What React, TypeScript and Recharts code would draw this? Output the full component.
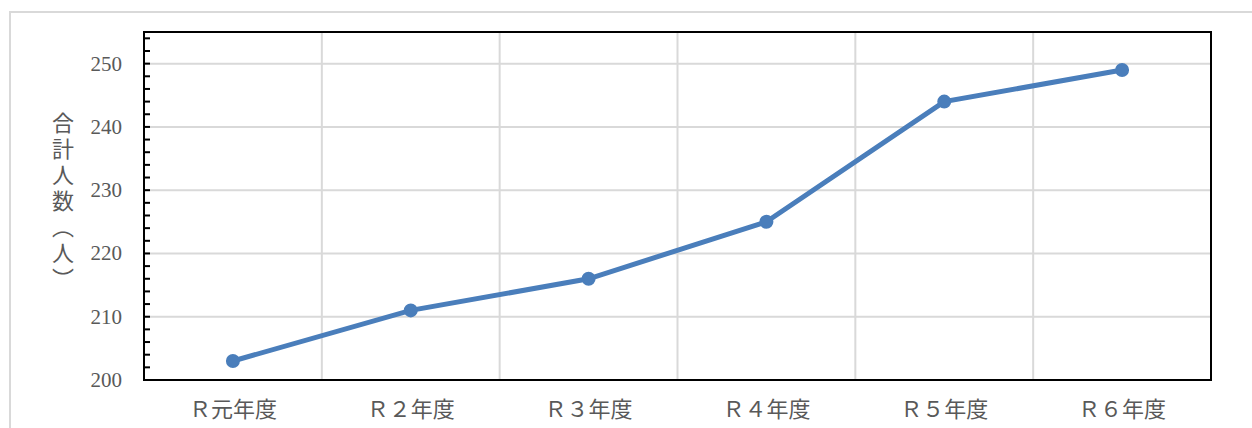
import React from 'react';
import { LineChart, Line, XAxis, YAxis, CartesianGrid, ReferenceArea } from 'recharts';

const categories = ['Ｒ元年度', 'Ｒ２年度', 'Ｒ３年度', 'Ｒ４年度', 'Ｒ５年度', 'Ｒ６年度'];
const totals = [203, 211, 216, 225, 244, 249];
const yMajorTicks = [200, 210, 220, 230, 240, 250];
const yMinorTicks = [200, 202, 204, 206, 208, 210, 212, 214, 216, 218, 220, 222, 224, 226, 228, 230, 232, 234, 236, 238, 240, 242, 244, 246, 248, 250, 252, 254];
const gridXTicks = [1, 2, 3, 4, 5];
const yDomain = [200, 255];
const yLabel = '合計人数（人）';

const data = categories.map((c, i) => ({ year: c, total: totals[i], idx: i + 0.5 }));

const FONT = "'Liberation Serif', 'DejaVu Serif', 'Noto Sans CJK JP', serif";
const TEXT = '#595959';
const BLUE = '#4A7EBB';

const YTick = (props: any) => {
  const { x, y, payload } = props;
  const v = payload.value;
  return (
    <g>
      <line x1={x} x2={x + 6} y1={y} y2={y} stroke="#000" strokeWidth={2} />
      {v % 10 === 0 && (
        <text x={x - 22} y={y} textAnchor="end" dominantBaseline="central" fill={TEXT} fontSize={21} fontFamily={FONT}>
          {v}
        </text>
      )}
    </g>
  );
};

const XTick = (props: any) => {
  const { x, y, payload } = props;
  return (
    <text x={x} y={y + 29} textAnchor="middle" dominantBaseline="central" fill={TEXT} fontSize={22} fontFamily={FONT}>
      {payload.value}
    </text>
  );
};

export default function App() {
  return (
    <div style={{ position: 'absolute', left: 0, top: 0, width: 1252, height: 428, overflow: 'hidden', background: '#fff' }}>
      <div style={{ position: 'absolute', left: 9, top: 11, width: 1400, height: 600, border: '2px solid #d9d9d9', boxSizing: 'border-box' }} />
      <div style={{ position: 'absolute', left: 0, top: 0 }}>
        <LineChart width={1252} height={428} data={data} margin={{ top: 32, right: 41, bottom: 0, left: 0 }}>
          <XAxis xAxisId="grid" type="number" dataKey="idx" domain={[0, 6]} ticks={gridXTicks} hide />
          <YAxis yAxisId="grid" type="number" dataKey="total" domain={yDomain} ticks={yMajorTicks} allowDataOverflow hide />
          <CartesianGrid xAxisId="grid" yAxisId="grid" stroke="#d9d9d9" strokeWidth={2} />
          <XAxis
            dataKey="year"
            type="category"
            scale="band"
            height={48}
            axisLine={{ stroke: '#000', strokeWidth: 2 }}
            tickLine={false}
            tickSize={0}
            tickMargin={0}
            tick={<XTick />}
            interval={0}
          />
          <YAxis
            type="number"
            domain={yDomain}
            ticks={yMinorTicks}
            interval={0}
            width={144}
            axisLine={{ stroke: '#000', strokeWidth: 2 }}
            tickLine={false}
            tickSize={0}
            tickMargin={0}
            tick={<YTick />}
            allowDataOverflow
          />
          <ReferenceArea y1={200} y2={255} fill="none" stroke="#000" strokeWidth={2} ifOverflow="visible" />
          <Line
            type="linear"
            dataKey="total"
            stroke={BLUE}
            strokeWidth={5}
            dot={{ r: 6, fill: BLUE, stroke: BLUE, strokeWidth: 2 }}
            isAnimationActive={false}
          />
        </LineChart>
      </div>
      <div
        style={{
          position: 'absolute',
          left: 51,
          top: 112,
          writingMode: 'vertical-rl',
          fontSize: 22,
          letterSpacing: 4,
          lineHeight: '24px',
          color: TEXT,
          fontFamily: "'Noto Sans CJK JP', sans-serif",
        }}
      >
        {yLabel}
      </div>
    </div>
  );
}
